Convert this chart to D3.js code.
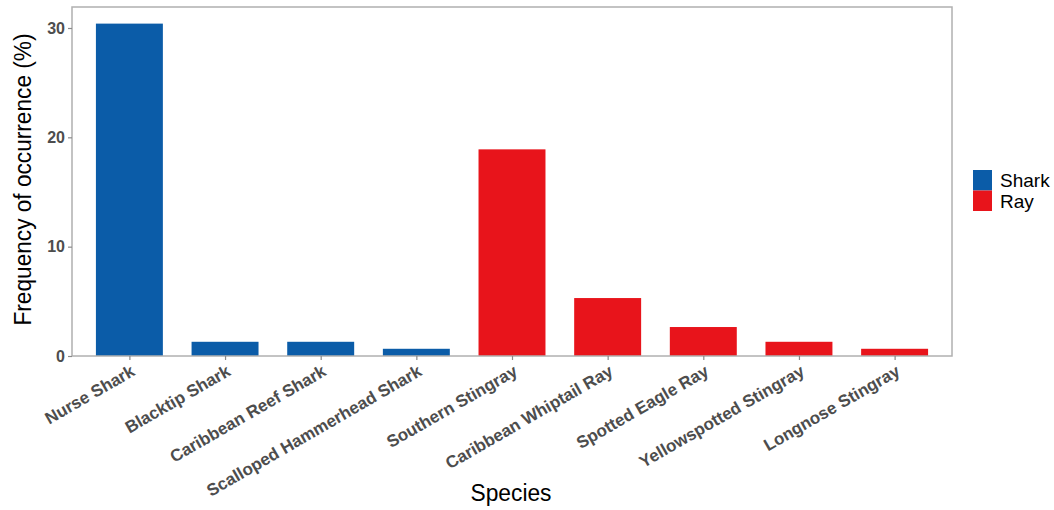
<!DOCTYPE html>
<html><head><meta charset="utf-8">
<script src="https://cdn.jsdelivr.net/npm/d3@7"></script>
<style>body{margin:0;background:#fff}svg{display:block}text{font-family:"Liberation Sans",Arial,sans-serif}</style>
</head><body><svg id="c" width="1054" height="510"></svg>
<script>
const species = ["Nurse Shark","Blacktip Shark","Caribbean Reef Shark","Scalloped Hammerhead Shark","Southern Stingray","Caribbean Whiptail Ray","Spotted Eagle Ray","Yellowspotted Stingray","Longnose Stingray"];
const group = ["Shark","Shark","Shark","Shark","Ray","Ray","Ray","Ray","Ray"];
const freq = [30.4, 1.3, 1.3, 0.66, 18.9, 5.3, 2.65, 1.3, 0.66];
const yTicks = [0, 10, 20, 30];
const groups = ["Shark","Ray"];
const groupColors = ["#0b5ca8","#e8141b"];

const svg = d3.select("#c");
const L = 72, R = 952, T = 7, B = 356;
const x = d3.scalePoint().domain(species).range([L, R]).padding(0.6);
const step = x.step();
const y = d3.scaleLinear().domain([0, 30.4 * 1.05]).range([B, T]);
const color = d3.scaleOrdinal().domain(groups).range(groupColors);

// bars
svg.append("g").selectAll("rect").data(species).join("rect")
  .attr("x", d => x(d) - step * 0.35)
  .attr("width", step * 0.7)
  .attr("y", (d, i) => y(freq[i]))
  .attr("height", (d, i) => y(0) - y(freq[i]))
  .attr("fill", (d, i) => color(group[i]));

// panel border
svg.append("rect").attr("x", L).attr("y", T).attr("width", R - L).attr("height", B - T)
  .attr("fill", "none").attr("stroke", "#b0b0b0").attr("stroke-width", 1.5);

// y axis
const ya = svg.append("g").attr("transform", `translate(${L},0)`)
  .call(d3.axisLeft(y).tickValues(yTicks).tickSize(4).tickPadding(3));
ya.select(".domain").remove();
ya.selectAll("line").attr("stroke", "#8a8a8a").attr("stroke-width", 1.2);
ya.selectAll("text").attr("fill", "#4d4d4d").style("font-size", "16px").style("font-weight", "bold")
  .style("font-family", '"Liberation Sans",Arial,sans-serif');

// x axis
const xa = svg.append("g").attr("transform", `translate(0,${B})`)
  .call(d3.axisBottom(x).tickSize(4));
xa.select(".domain").remove();
xa.selectAll("line").attr("stroke", "#8a8a8a").attr("stroke-width", 1.2);
xa.selectAll("text")
  .attr("fill", "#4d4d4d").style("font-size", "17px").style("font-weight", "bold")
  .style("font-family", '"Liberation Sans",Arial,sans-serif')
  .attr("text-anchor", "end")
  .attr("x", 0).attr("y", 0).attr("dy", "0.72em")
  .attr("transform", "translate(0,8) rotate(-30)");

// axis titles
svg.append("text").attr("x", 511).attr("y", 501).attr("text-anchor", "middle")
  .style("font-size", "23px").attr("fill", "#000").attr("textLength", 81).attr("lengthAdjust", "spacingAndGlyphs")
  .text("Species");
svg.append("text").attr("transform", `translate(31,${(T + B) / 2 - 2}) rotate(-90)`).attr("text-anchor", "middle")
  .style("font-size", "23px").attr("fill", "#000").attr("textLength", 292).attr("lengthAdjust", "spacingAndGlyphs")
  .text("Frequency of occurrence (%)");

// legend
const lg = svg.append("g").attr("transform", "translate(973,170)");
groups.forEach((g, i) => {
  lg.append("rect").attr("x", 0).attr("y", i * 20.5).attr("width", 19).attr("height", 20.5).attr("fill", color(g));
  lg.append("text").attr("x", 27).attr("y", i * 20.5 + 10.5).attr("dy", "0.35em")
    .style("font-size", "19px").attr("fill", "#000").text(g);
});
</script></body></html>
